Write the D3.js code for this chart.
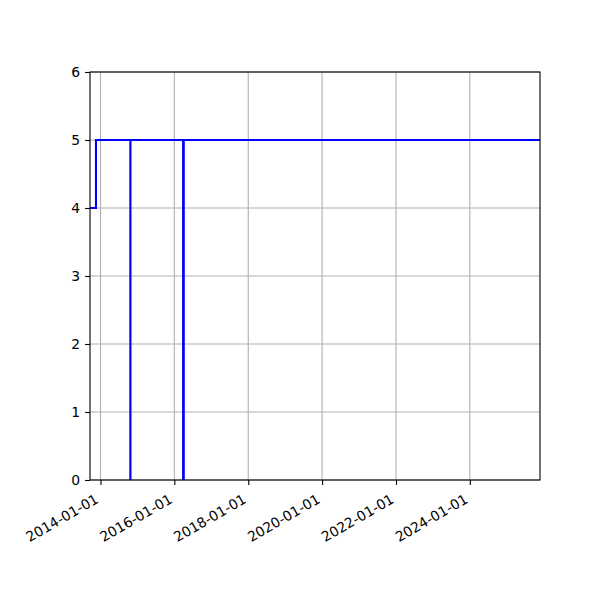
<!DOCTYPE html>
<html>
<head>
<meta charset="utf-8">
<script src="https://cdn.jsdelivr.net/npm/d3@7"></script>
<style>
  html, body { margin: 0; padding: 0; background: #fff; }
  text { font-family: "DejaVu Sans", sans-serif; }
</style>
</head>
<body>
<svg id="chart" width="600" height="600"></svg>
<script>
// Data (step series, value holds until next date)
const dates = ["2013-09-19", "2013-11-17", "2014-10-23", "2014-10-24", "2016-03-28", "2016-04-03", "2025-11-25"];
const values = [4, 5, 0, 5, 0, 5, 5];
const xTickLabels = ["2014-01-01", "2016-01-01", "2018-01-01", "2020-01-01", "2022-01-01", "2024-01-01"];
const yTicks = [0, 1, 2, 3, 4, 5, 6];

const parse = d3.utcParse("%Y-%m-%d");
const data = dates.map((d, i) => ({ date: parse(d), value: values[i] }));
const xTicks = xTickLabels.map(parse);

const margin = { left: 90, right: 60, top: 72, bottom: 120 };
const W = 600, H = 600;
const iw = W - margin.left - margin.right;
const ih = H - margin.top - margin.bottom;

const svg = d3.select("#chart");
const g = svg.append("g").attr("transform", `translate(${margin.left},${margin.top})`);

const x = d3.scaleUtc().domain(d3.extent(data, d => d.date)).range([0, iw]);
const y = d3.scaleLinear().domain([0, 6]).range([ih, 0]);

// Grid
g.append("g").selectAll("line.vx").data(xTicks).join("line")
  .attr("x1", d => x(d)).attr("x2", d => x(d))
  .attr("y1", 0).attr("y2", ih)
  .attr("stroke", "#b0b0b0").attr("stroke-width", 1.1);
g.append("g").selectAll("line.hy").data(yTicks).join("line")
  .attr("x1", 0).attr("x2", iw)
  .attr("y1", d => y(d)).attr("y2", d => y(d))
  .attr("stroke", "#b0b0b0").attr("stroke-width", 1.1);

// Clip
svg.append("defs").append("clipPath").attr("id", "clip")
  .append("rect").attr("x", 0).attr("y", 0).attr("width", iw).attr("height", ih);

// Line
const line = d3.line().x(d => x(d.date)).y(d => y(d.value)).curve(d3.curveStepAfter);
g.append("path").datum(data)
  .attr("d", line)
  .attr("fill", "none")
  .attr("stroke", "#0000ff")
  .attr("stroke-width", 2.1)
  .attr("stroke-linejoin", "miter")
  .attr("stroke-linecap", "butt")
  .attr("clip-path", "url(#clip)");

// Axes
const xAxis = d3.axisBottom(x).tickValues(xTicks).tickSize(4.9).tickPadding(0).tickFormat(d3.utcFormat("%Y-%m-%d"));
const gx = g.append("g").attr("transform", `translate(0,${ih})`).call(xAxis);
gx.select(".domain").remove();
gx.selectAll(".tick line").attr("stroke", "#000").attr("stroke-width", 1.1);
gx.selectAll(".tick text")
  .attr("font-size", "13.9px")
  .attr("fill", "#000")
  .attr("text-anchor", "end")
  .attr("dy", null)
  .attr("y", null)
  .attr("transform", "translate(-1.5,22) rotate(-30)");

const yAxis = d3.axisLeft(y).tickValues(yTicks).tickSize(4.9).tickPadding(4.9).tickFormat(d3.format("d"));
const gy = g.append("g").call(yAxis);
gy.select(".domain").remove();
gy.selectAll(".tick line").attr("stroke", "#000").attr("stroke-width", 1.1);
gy.selectAll(".tick text").attr("font-size", "13.9px").attr("fill", "#000");

// Frame
g.append("rect").attr("x", 0).attr("y", 0).attr("width", iw).attr("height", ih)
  .attr("fill", "none").attr("stroke", "#000").attr("stroke-width", 1.1);
</script>
</body>
</html>
